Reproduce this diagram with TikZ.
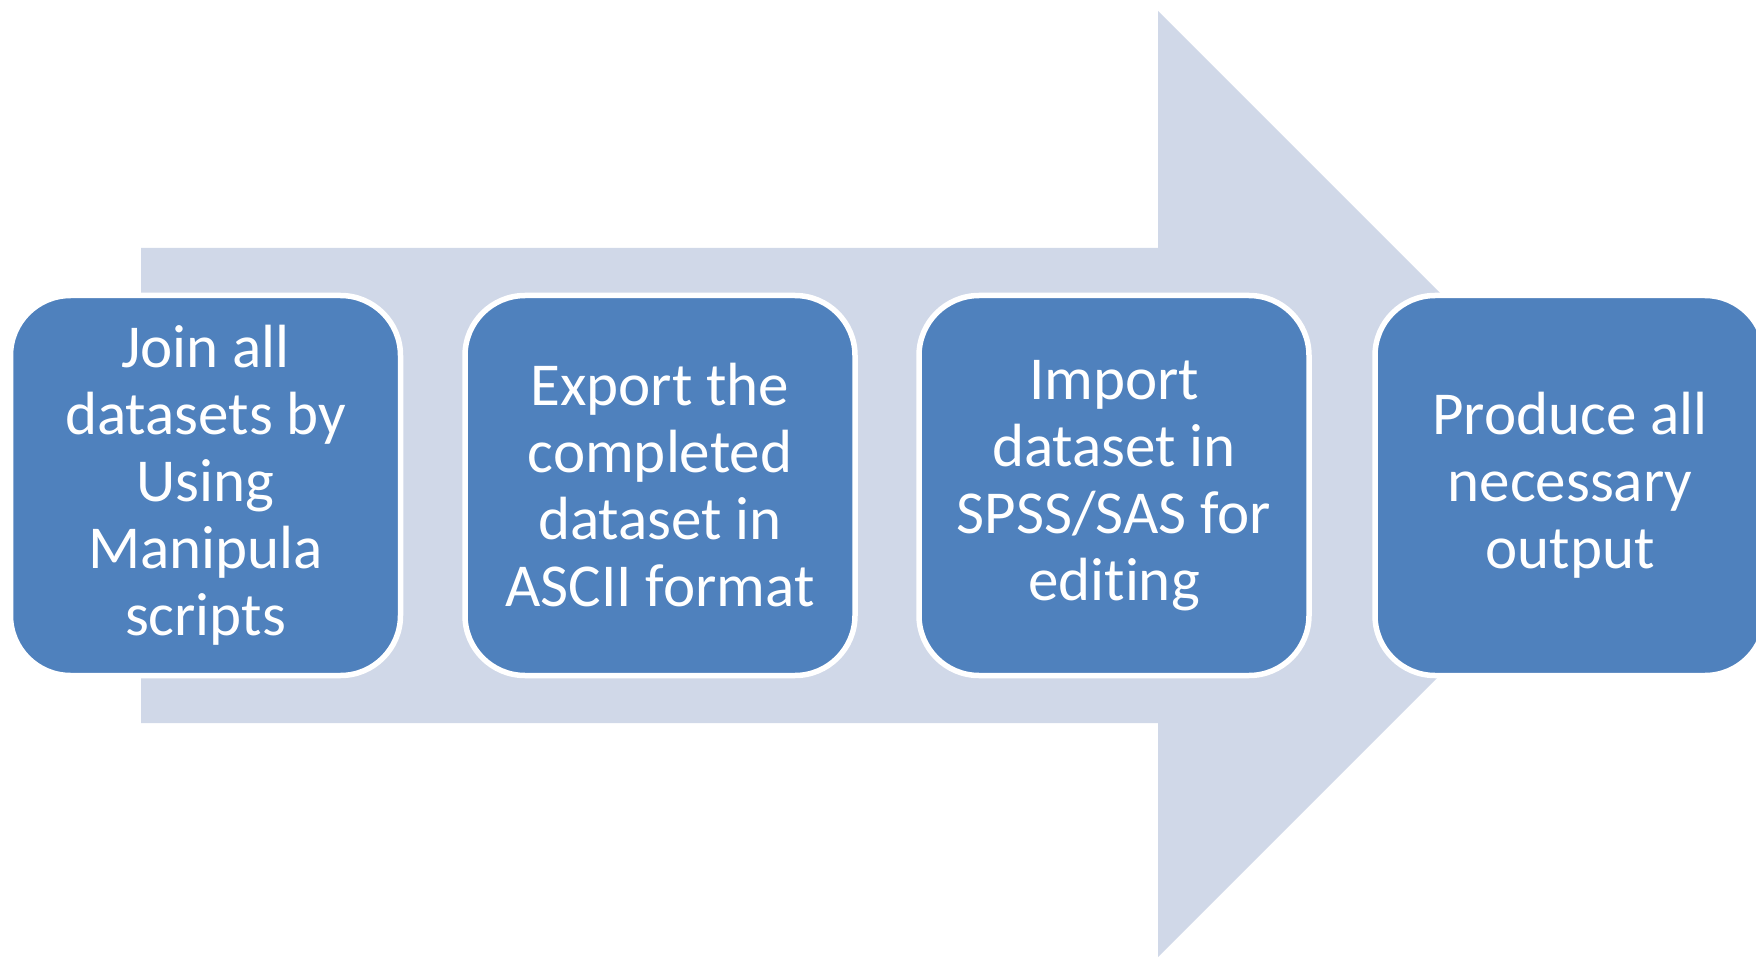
\documentclass[tikz,border=0pt]{standalone}
\usepackage{fontspec}
\newfontfamily\carlito[Ligatures={NoCommon}]{Carlito}
\definecolor{boxblue}{HTML}{4F81BD}
\definecolor{arrowgray}{HTML}{D0D8E8}
\begin{document}
\begin{tikzpicture}[x=0.5pt,y=-0.5pt,
  stepbox/.style={rectangle, rounded corners=30pt, draw=white, line width=2.75pt,
    fill=boxblue, text=white, align=center,
    minimum width=195pt, minimum height=190pt, inner sep=0pt,
    font=\carlito\fontsize{30.5}{33.5}\selectfont}]
\clip (0,0) rectangle (1756,957);
\fill[white] (0,0) rectangle (1756,957);
\fill[arrowgray] (141,248) -- (1158,248) -- (1158,11) -- (1631,484) -- (1158,957) -- (1158,723) -- (141,723) -- cycle;
\node[stepbox] (s1) at (205.5,485.5) {Join all\\datasets by\\Using\\Manipula\\scripts};
\node[stepbox] (s2) at (660,485.5) {Export the\\completed\\dataset in\\ASCII format};
\node[stepbox] (s3) at (1114,485.5) {Import\\dataset in\\SPSS/SAS for\\editing};
\node[stepbox] (s4) at (1570,485.5) {Produce all\\necessary\\output};
\end{tikzpicture}
\end{document}
